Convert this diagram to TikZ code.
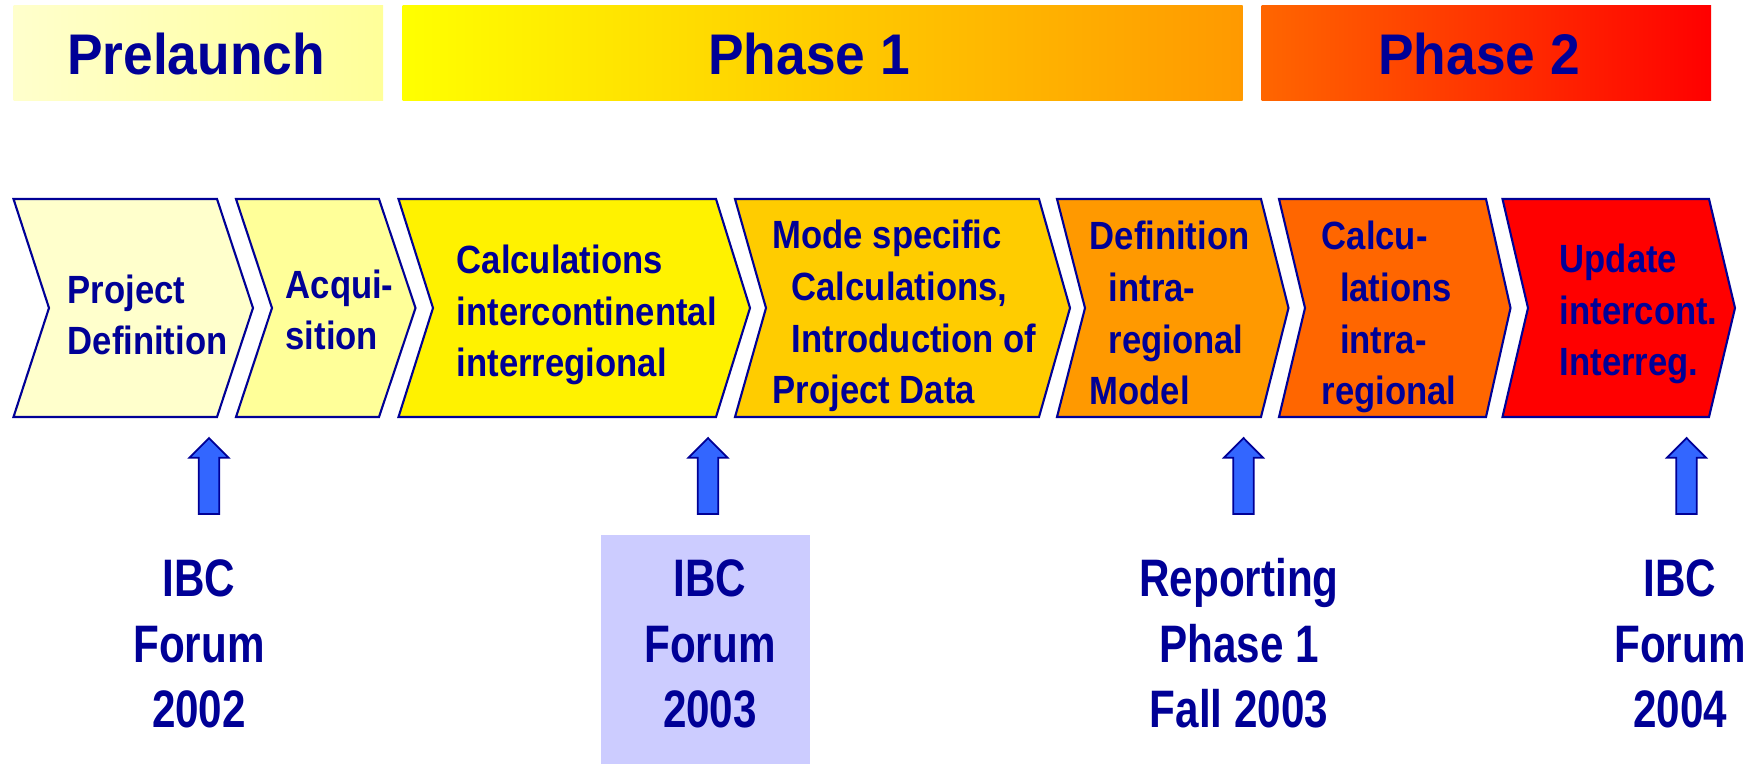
\documentclass[tikz,border=0pt]{standalone}
\usepackage{fontspec}
\setmainfont{Liberation Sans}[FakeStretch=0.88]
\newfontfamily\narrowfont{Liberation Sans}[FakeStretch=0.8]
\newfontfamily\widefont{Liberation Sans}[FakeStretch=0.93]

\definecolor{navy}{RGB}{0,0,150}
\definecolor{arrowblue}{RGB}{51,102,255}
\definecolor{forumbg}{RGB}{204,204,255}
\definecolor{pale}{RGB}{255,255,204}
\definecolor{lightyel}{RGB}{255,255,153}
\definecolor{amber}{RGB}{255,204,0}
\definecolor{orangeA}{RGB}{255,153,0}
\definecolor{orangeB}{RGB}{255,102,0}

\tikzset{
    chevron/.style={draw=navy, line width=0.6pt},
    milestone/.style={draw=navy, line width=0.5pt, fill=arrowblue},
    chevtext/.style={anchor=base west, inner sep=0pt, align=left, text=navy,
        font=\bfseries\fontsize{11.2}{14.7}\selectfont},
    phasetext/.style={text=navy, font=\widefont\bfseries\fontsize{16.3}{19}\selectfont},
    forumtext/.style={anchor=base, inner sep=0pt, align=center, text=navy,
        font=\narrowfont\bfseries\fontsize{15}{18.7}\selectfont},
}

\begin{document}
\begin{tikzpicture}[x=0.01cm, y=-0.01cm]
    \useasboundingbox (0,0) rectangle (1763,764);

    % phase bars
    \shade[left color=pale, right color=lightyel] (13.5,6) rectangle (383,101);
    \shade[left color=yellow, right color=orangeA] (402.5,6) rectangle (1242.5,101);
    \shade[left color=orangeB, right color=red] (1261.5,6) rectangle (1711,101);

    \node[phasetext] (prelaunch) at (196,54) {Prelaunch};
    \node[phasetext] (phase1) at (809,54) {Phase 1};
    \node[phasetext] (phase2) at (1479,54) {Phase 2};

    % chevrons: left, notch, right, point, fill
    \foreach \l/\n/\r/\p/\c in {13.5/49/217/253/pale, 236/272/379/415.5/lightyel,
            398.5/433/716/750/yellow, 735/766/1039/1070/amber,
            1057/1085/1261/1288.5/orangeA, 1279/1305/1486/1510.5/orangeB,
            1502.5/1528/1709/1735/red}
        \draw[chevron, fill=\c] (\l,199) -- (\r,199) -- (\p,308) -- (\r,417)
            -- (\l,417) -- (\n,308) -- cycle;

    % text sits on the baseline of its last line
    \node[chevtext] (projdef) at (67,355) {Project\\Definition};
    \node[chevtext] (acquisition) at (285,350) {Acqui-\\sition};
    \node[chevtext] (calcinter) at (456,377) {Calculations\\intercontinental\\interregional};
    \node[chevtext] (modespec) at (772,404)
        {Mode specific\\\hspace*{5.4pt}Calculations,\\\hspace*{5.4pt}Introduction of\\Project Data};
    \node[chevtext] (defintra) at (1089,405)
        {Definition\\\hspace*{5.4pt}intra-\\\hspace*{5.4pt}regional\\Model};
    \node[chevtext] (calcintra) at (1321,405)
        {Calcu-\\\hspace*{5.2pt}lations\\\hspace*{5.2pt}intra-\\regional};
    \node[chevtext] (update) at (1559,376) {Update\\intercont.\\Interreg.};

    % milestone arrows
    \foreach \cx in {209,708,1243.5,1686.5}
        \draw[milestone] (\cx,438) -- (\cx+19.5,457.7) -- (\cx+10.2,457.7)
            -- (\cx+10.2,514) -- (\cx-10.2,514) -- (\cx-10.2,457.7)
            -- (\cx-19.5,457.7) -- cycle;

    % milestones
    \fill[forumbg] (601,535) rectangle (810,764);
    \node[forumtext] (forum02) at (199,728) {IBC\\Forum\\2002};
    \node[forumtext] (forum03) at (710,728) {IBC\\Forum\\2003};
    \node[forumtext] (report) at (1239,728) {Reporting\\Phase 1\\Fall 2003};
    \node[forumtext] (forum04) at (1680,728) {IBC\\Forum\\2004};

\end{tikzpicture}
\end{document}
